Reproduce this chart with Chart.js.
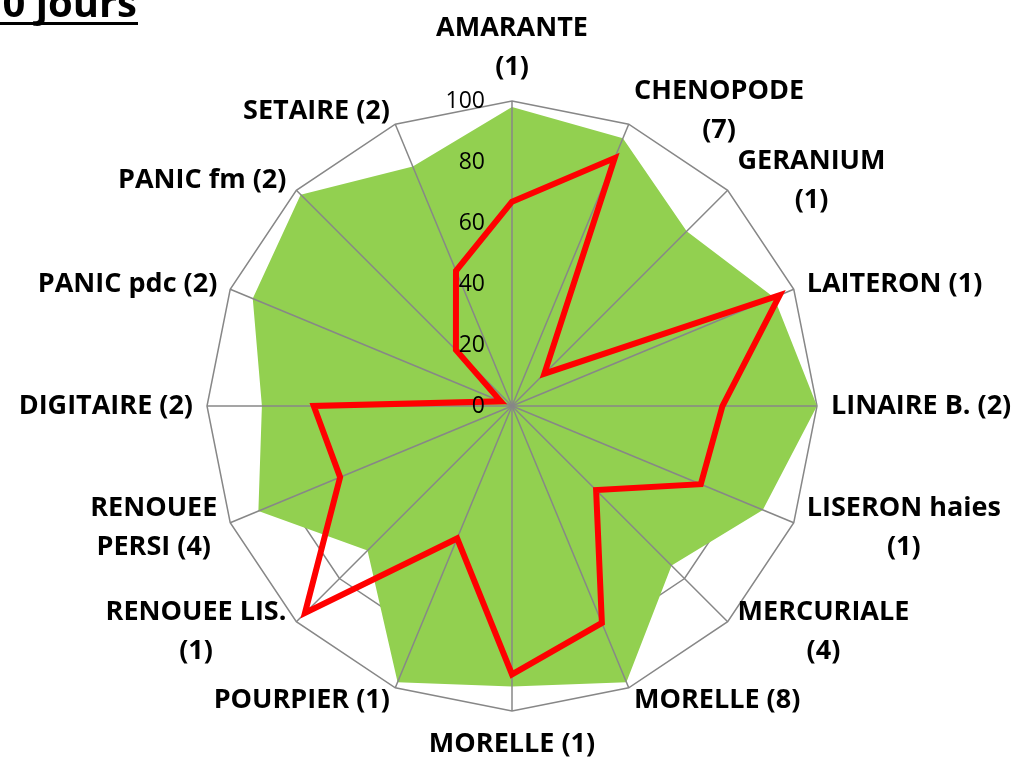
<!DOCTYPE html>
<html>
<head>
<meta charset="utf-8">
<script src="https://cdn.jsdelivr.net/npm/chart.js@4.4.1/dist/chart.umd.min.js"></script>
<style>
    body { margin: 0; background: #ffffff; }
    #cadre { width: 1015px; height: 759px; }
</style>
</head>
<body>
<div id="cadre"><canvas id="radar" width="1015" height="759"></canvas></div>
<script>

// adventices (nombre d'especes entre parentheses)
const categories = [
    ["AMARANTE", "(1)"],
    ["CHENOPODE", "(7)"],
    ["GERANIUM", "(1)"],
    "LAITERON (1)",
    "LINAIRE B. (2)",
    ["LISERON haies", "(1)"],
    ["MERCURIALE", "(4)"],
    "MORELLE (8)",
    "MORELLE (1)",
    "POURPIER (1)",
    ["RENOUEE LIS.", "(1)"],
    ["RENOUEE", "PERSI (4)"],
    "DIGITAIRE (2)",
    "PANIC pdc (2)",
    "PANIC fm (2)",
    "SETAIRE (2)"
];

const valeursVertes = [98, 95, 81, 93, 100, 89, 74, 98, 92, 98, 67, 90, 82, 92, 98, 85];
const valeursRouges = [67, 88, 15, 95, 69, 67, 39, 77, 88, 47, 96, 61, 65, 4, 26, 48];

const graduations = [0, 20, 40, 60, 80, 100];
const titre = "0 jours";

const gris = "#878787";

// traits des axes + textes par dessus le vert (comme excel)
const surcouche = {
    id: "surcouche",
    afterDatasetDraw(chart, args) {
        if (args.index !== 1) return;
        const ctx = chart.ctx;
        const r = chart.scales.r;
        ctx.save();
        ctx.strokeStyle = gris;
        ctx.lineWidth = 1.5;
        for (let i = 0; i < categories.length; i++) {
            const p = r.getPointPosition(i, r.drawingArea);
            ctx.beginPath();
            ctx.moveTo(r.xCenter, r.yCenter);
            ctx.lineTo(p.x, p.y);
            ctx.stroke();
        }
        ctx.restore();
    },
    afterDatasetsDraw(chart) {
        const ctx = chart.ctx;
        const r = chart.scales.r;
        ctx.save();

        // graduations
        ctx.fillStyle = "#000";
        ctx.font = "23px 'Open Sans'";
        ctx.textAlign = "right";
        ctx.textBaseline = "middle";
        graduations.forEach(v => {
            const y = r.yCenter - r.getDistanceFromCenterForValue(v);
            ctx.fillText(String(v), r.xCenter - 27, y);
        });

        // noms des categories
        ctx.font = "bold 27px 'Open Sans'";
        ctx.textAlign = "center";
        const hLigne = 39;
        const n = categories.length;
        categories.forEach((lab, i) => {
            const lignes = Array.isArray(lab) ? lab : [lab];
            const larg = Math.max(...lignes.map(l => ctx.measureText(l).width));
            const haut = lignes.length * hLigne;
            const p = r.getPointPosition(i, r.drawingArea + 14);
            let cx = p.x;
            let cy = p.y;
            if (i === 0) cy = p.y - haut / 2;
            else if (i === n / 2) cy = p.y + haut / 2;
            else if (i < n / 2) cx = p.x + larg / 2;
            else cx = p.x - larg / 2;
            lignes.forEach((l, k) => {
                ctx.fillText(l, cx, cy - haut / 2 + hLigne / 2 + k * hLigne);
            });
        });
        ctx.restore();
    },
    afterDraw(chart) {
        const ctx = chart.ctx;
        ctx.save();
        ctx.fillStyle = "#000";
        ctx.font = "bold 40px 'Open Sans'";
        ctx.textAlign = "right";
        ctx.textBaseline = "alphabetic";
        ctx.fillText(titre, 137, 17);
        ctx.fillRect(0, 22, 138, 3);
        ctx.restore();
    }
};

function graficoRadar(elemId) {

    const ctx = document.getElementById(elemId);

    new Chart(ctx, {
        type: "radar",
        data: {
            labels: categories,
            datasets: [{
                label: "rouge",
                data: valeursRouges,
                borderColor: "#ff0000",
                borderWidth: 6,
                borderJoinStyle: "miter",
                backgroundColor: "rgba(0,0,0,0)",
                fill: false,
                pointRadius: 0
            }, {
                label: "vert",
                data: valeursVertes,
                backgroundColor: "#92d050",
                borderWidth: 0,
                fill: true,
                pointRadius: 0
            }]
        },
        options: {
            responsive: false,
            devicePixelRatio: 1,
            animation: false,
            layout: {
                padding: { top: 101, bottom: 48, left: 9, right: 0 }
            },
            plugins: {
                legend: { display: false },
                tooltip: { enabled: false }
            },
            scales: {
                r: {
                    min: 0,
                    max: 100,
                    ticks: { display: false, stepSize: 20 },
                    pointLabels: { display: false },
                    grid: { color: gris, lineWidth: 1.5 },
                    angleLines: { display: false }
                }
            }
        },
        plugins: [surcouche]
    });

}

graficoRadar("radar");
</script>
</body>
</html>
